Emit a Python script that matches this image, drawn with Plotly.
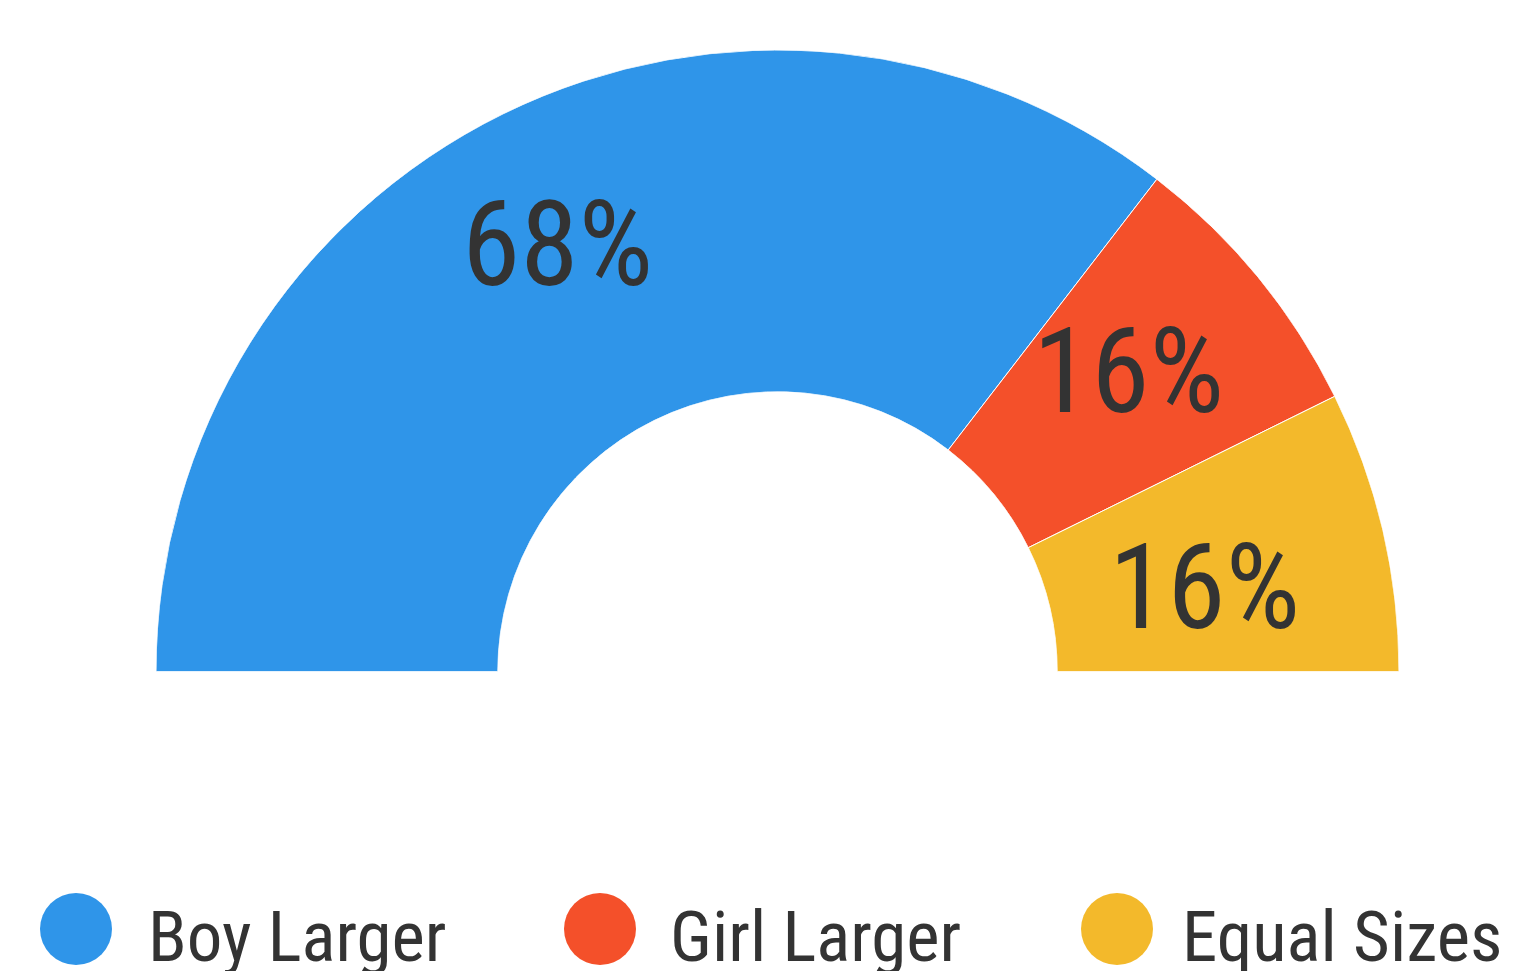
import math
import plotly.graph_objects as go

# data
categories = ['Boy Larger', 'Girl Larger', 'Equal Sizes']
arc_share = [70.9, 14.5, 14.6]          # share of the half ring, from the slice boundaries
label_text = ['68%', '16%', '16%']      # labels printed on the slices
colors = ['#2F95E9', '#F4502A', '#F3B92B']

W, H = 1533, 971
FONT = 'Roboto Condensed, DejaVu Sans Condensed, Roboto, sans-serif'
TEXT_COLOR = '#333333'

# half ring domain (paper coords)
dom_x = [156 / W, 1399 / W]
dom_y = [1 - 671.5 / H, 1 - 50 / H]

# label placement tweaks (radius as share of outer radius, angle nudge in degrees)
label_r = [0.772, 0.743, 0.70]
label_da = [1.1, 1.15, -2.05]

total = sum(arc_share)
widths, centers = [], []
start = 180.0
for s in arc_share:
    w = s / total * 180.0
    widths.append(w)
    centers.append(start - w / 2)
    start -= w

fig = go.Figure()
fig.add_trace(go.Barpolar(
    r=[1] * len(categories),
    theta=centers,
    width=widths,
    name='',
    text=categories,
    marker=dict(color=colors, line=dict(color='white', width=1)),
    hovertemplate='%{text}<extra></extra>',
    showlegend=False,
))

fig.update_layout(
    width=W,
    height=H,
    autosize=False,
    margin=dict(l=0, r=0, t=0, b=0, pad=0),
    paper_bgcolor='white',
    plot_bgcolor='white',
    font=dict(family=FONT, color=TEXT_COLOR),
    polar=dict(
        domain=dict(x=dom_x, y=dom_y),
        sector=[0, 180],
        hole=0.45,
        bgcolor='white',
        radialaxis=dict(visible=False, range=[0, 1]),
        angularaxis=dict(visible=False, direction='counterclockwise', rotation=0),
    ),
)

# slice labels near the middle angle of each slice
cx = (dom_x[0] + dom_x[1]) / 2 * W
cy = (1 - dom_y[0]) * H
R = (dom_x[1] - dom_x[0]) * W / 2
for txt, a, rf, da in zip(label_text, centers, label_r, label_da):
    rr = rf * R
    px = cx + rr * math.cos(math.radians(a + da))
    py = cy - rr * math.sin(math.radians(a + da))
    fig.add_annotation(x=px / W, y=1 - py / H, xref='paper', yref='paper',
                       text=txt, showarrow=False, xanchor='center', yanchor='middle',
                       font=dict(size=118, color=TEXT_COLOR, family=FONT))

# legend: big dots + labels along the bottom
legend_dot_x = [76, 600, 1117]
legend_text_x = [146, 668, 1180]
legend_y = 929
dot_r = 36
for name, col, dx, tx in zip(categories, colors, legend_dot_x, legend_text_x):
    fig.add_shape(type='circle', xref='paper', yref='paper',
                  x0=(dx - dot_r) / W, x1=(dx + dot_r) / W,
                  y0=1 - (legend_y + dot_r) / H, y1=1 - (legend_y - dot_r) / H,
                  fillcolor=col, line=dict(width=0))
    fig.add_annotation(x=tx / W, y=1 - 936 / H, xref='paper', yref='paper',
                       text=name, showarrow=False, xanchor='left', yanchor='middle',
                       font=dict(size=71, color=TEXT_COLOR, family=FONT))

fig.write_html("out.html",
               config=dict(displayModeBar=False),
               post_script="document.body.style.margin='0';"
                           "document.documentElement.style.overflow='hidden';")
